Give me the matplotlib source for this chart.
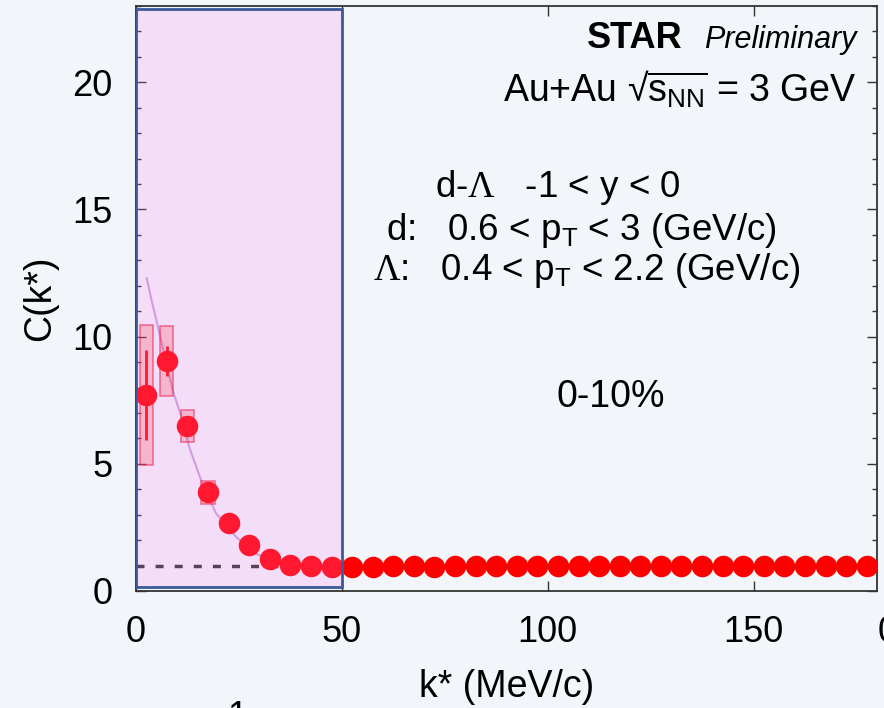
import matplotlib
matplotlib.use('Agg')
import matplotlib.pyplot as plt
from matplotlib.patches import Rectangle
from matplotlib.ticker import MultipleLocator

plt.rcParams['font.family'] = ['Liberation Sans', 'DejaVu Sans']
plt.rcParams['mathtext.fontset'] = 'custom'
plt.rcParams['mathtext.rm'] = 'Liberation Serif'
plt.rcParams['mathtext.sf'] = 'Liberation Sans'
plt.rcParams['mathtext.it'] = 'Liberation Sans:italic'

# k* bin centres (MeV/c) and measured correlation C(k*)
kstar = [2.5, 7.5, 12.5, 17.5, 22.5, 27.5, 32.5, 37.5, 42.5, 47.5,
         52.5, 57.5, 62.5, 67.5, 72.5, 77.5, 82.5, 87.5, 92.5, 97.5,
         102.5, 107.5, 112.5, 117.5, 122.5, 127.5, 132.5, 137.5, 142.5, 147.5,
         152.5, 157.5, 162.5, 167.5, 172.5, 177.5]
ck = [7.70, 9.04, 6.48, 3.88, 2.68, 1.81, 1.26, 1.04, 0.98, 0.94,
      0.95, 0.95, 0.98, 0.99, 0.94, 0.98, 0.99, 0.99, 0.98, 0.98,
      0.99, 0.97, 0.98, 0.97, 0.98, 0.97, 0.98, 0.97, 0.98, 0.97,
      0.98, 0.97, 0.98, 0.97, 0.98, 0.99]

# errors on the lowest bins
stat_k = [2.5, 7.5]
stat_c = [7.70, 9.04]
stat_err = [1.77, 0.60]
sys_k = [2.5, 7.5, 12.5, 17.5]
sys_c = [7.70, 9.04, 6.48, 3.88]
sys_err = [2.75, 1.36, 0.64, 0.45]

# model curve
curve_k = [2.6, 3.6, 6.1, 8.9, 11.3, 12.9, 15.8, 19.4, 24.3, 28.3, 32.3, 36.0, 40.0, 45.0, 50.0]
curve_c = [12.29, 11.56, 9.86, 7.90, 6.72, 5.67, 4.36, 3.06, 2.13, 1.54, 1.22, 1.08, 1.03, 1.01, 1.0]

bg = '#f2f5fa'
fig = plt.figure(figsize=(8.84, 7.08), dpi=100, facecolor=bg)
ax = fig.add_axes([136/884, 1 - 591/708, 741/884, 585/708])
ax.set_facecolor(bg)

ax.axhline(1.0, color='#333333', lw=2.5, dashes=(2.3, 3.2), zorder=1)
ax.plot(curve_k, curve_c, color='#c4a6dc', lw=1.5, zorder=2)

for k, c, e in zip(sys_k, sys_c, sys_err):
    ax.add_patch(Rectangle((k - 1.6, c - e), 3.2, 2 * e, facecolor=(1, 0, 0, 0.2),
                           edgecolor=(0.9, 0.1, 0.2, 0.6), lw=1.2, zorder=2.5))
ax.errorbar(stat_k, stat_c, yerr=stat_err, fmt='none', ecolor='red', elinewidth=2, capsize=0, zorder=3)
ax.plot(kstar, ck, 'o', color='red', ms=15.5, mec='none', zorder=4)

# highlighted low-k* region
ax.add_patch(Rectangle((0, 0.15), 50, 22.75, facecolor=(1.0, 0.49, 0.94, 0.2),
                       edgecolor='#3b5a9a', lw=2, zorder=6))

ax.set_xlim(0, 180)
ax.set_ylim(0, 23)
ax.xaxis.set_major_locator(MultipleLocator(50))
ax.yaxis.set_major_locator(MultipleLocator(5))
ax.yaxis.set_minor_locator(MultipleLocator(1))
ax.tick_params(which='both', direction='in', top=True, right=True, colors='#333333',
               labelcolor='black', labelsize=26, pad=17)
ax.tick_params(which='major', length=7, width=1)
ax.tick_params(which='minor', length=3.6, width=1)
for s in ax.spines.values():
    s.set_color('#333333')
    s.set_linewidth(1.3)

ax.set_xlabel('k* (MeV/c)', fontsize=27, labelpad=14)
ax.set_ylabel('C(k*)', fontsize=27, labelpad=10)

tr = ax.transAxes
ax.text(0.738, 0.929, 'STAR', transform=tr, fontsize=26, fontweight='bold', ha='right', va='baseline')
ax.text(0.973, 0.929, 'Preliminary', transform=tr, fontsize=22, style='italic', ha='right', va='baseline')
ax.text(0.973, 0.8364, r'Au+Au √$\overline{\mathsf{s}_{\mathsf{NN}}}$ = 3 GeV', transform=tr,
        fontsize=27, ha='right', va='baseline')
ax.text(0.5688, 0.6735, r'd-$\Lambda$   -1 < y < 0', transform=tr, fontsize=26.5, ha='center', va='baseline')
ax.text(0.6015, 0.600, r'd:   0.6 < p$_{\mathsf{T}}$ < 3 (GeV/c)', transform=tr, fontsize=26.5,
        ha='center', va='baseline')
ax.text(0.6082, 0.5316, r'$\Lambda$:   0.4 < p$_{\mathsf{T}}$ < 2.2 (GeV/c)', transform=tr, fontsize=26.5,
        ha='center', va='baseline')
ax.text(0.641, 0.315, '0-10%', transform=tr, fontsize=27, ha='center', va='baseline')

# fragments of neighbouring panel labels cut by the crop
fig.text(878/884, 1 - 632/708, '0', fontsize=26, ha='left', va='center')
fig.text(237/884, 1 - 700/708, '1', fontsize=26, ha='center', va='top')

fig.savefig('out.png', dpi=100, facecolor=bg)
